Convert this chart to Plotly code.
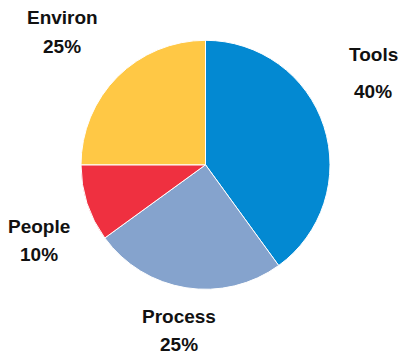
import plotly.graph_objects as go

# Slice data, clockwise from 12 o'clock
categories = ["Tools", "Process", "People", "Environ"]
shares = [40, 25, 10, 25]
colors = ["#0389D2", "#85A3CD", "#EF3040", "#FFC845"]

# Label placement (pixels from top-left): x centre, y of name line, y of percent line
label_pos = {
    "Tools": (373, 54, 91),
    "Process": (179, 316, 344),
    "People": (39, 226, 254),
    "Environ": (62, 18, 46),
}

W, H = 399, 354
cx, cy, r = 205.5, 164.8, 124.5

fig = go.Figure(
    go.Pie(
        labels=categories,
        values=shares,
        sort=False,
        direction="clockwise",
        rotation=0,
        marker=dict(colors=colors, line=dict(color="white", width=1)),
        textinfo="none",
        hoverinfo="label+percent",
        showlegend=False,
        domain=dict(
            x=[(cx - r) / W, (cx + r) / W],
            y=[1 - (cy + r) / H, 1 - (cy - r) / H],
        ),
    )
)

font = dict(family="Liberation Sans, Arial", size=19, color="#111111")
total = sum(shares)
for name, val in zip(categories, shares):
    px, py1, py2 = label_pos[name]
    for txt, py in ((name, py1), (f"{round(100 * val / total)}%", py2)):
        fig.add_annotation(
            x=px / W, y=1 - py / H, xref="paper", yref="paper",
            text=f"<b>{txt}</b>",
            showarrow=False, font=font, align="center",
            xanchor="center", yanchor="middle",
        )

fig.update_layout(
    width=W, height=H,
    margin=dict(l=0, r=0, t=0, b=0),
    paper_bgcolor="white", plot_bgcolor="white",
)

fig.write_html("out.html")
